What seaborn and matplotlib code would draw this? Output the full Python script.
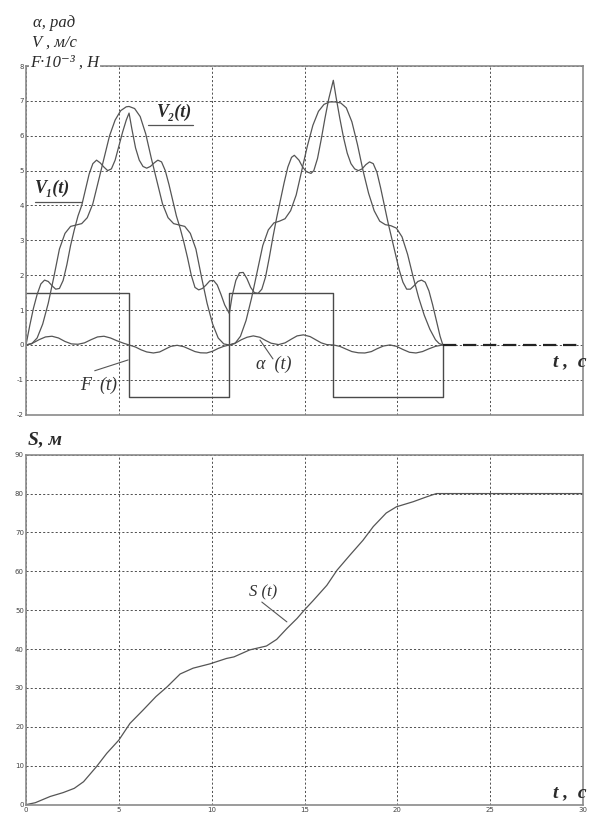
import matplotlib
matplotlib.use('Agg')
import matplotlib.pyplot as plt
import seaborn as sns

# ---------------- data ----------------
t_ticks = [0, 5, 10, 15, 20, 25, 30]
top_yticks = [-2, -1, 0, 1, 2, 3, 4, 5, 6, 7, 8]
bottom_yticks = [0, 10, 20, 30, 40, 50, 60, 70, 80, 90]

# V1(t)
v1_t = [0, 0.2, 0.4, 0.6, 0.8, 1.0, 1.2, 1.4, 1.6, 1.8, 2.0, 2.2, 2.4, 2.6, 2.8, 3.0,
        3.2, 3.4, 3.6, 3.8, 4.0, 4.2, 4.4, 4.6, 4.8, 5.0, 5.2, 5.4,
        5.55, 5.7, 5.9, 6.1, 6.3, 6.5, 6.7, 6.9, 7.1, 7.3, 7.5, 7.7, 7.9, 8.1, 8.3,
        8.5, 8.7, 8.9, 9.1, 9.3, 9.5, 9.7, 9.9, 10.1, 10.3, 10.5, 10.7,
        10.95, 11.1, 11.3, 11.5, 11.7, 11.9, 12.1, 12.3, 12.5, 12.7, 12.9, 13.1, 13.3,
        13.5, 13.7, 13.9, 14.1, 14.3, 14.45, 14.7, 14.9, 15.1, 15.35, 15.5, 15.7,
        15.9, 16.1, 16.3,
        16.55, 16.7, 16.9, 17.1, 17.3, 17.5, 17.7, 17.9, 18.1, 18.3, 18.5, 18.7,
        18.9, 19.1, 19.3, 19.5, 19.7, 19.9, 20.1, 20.3, 20.5, 20.7, 20.9, 21.1,
        21.3, 21.5, 21.7, 21.9, 22.1, 22.3, 22.45]
v1 = [0, 0.55, 1.05, 1.45, 1.75, 1.86, 1.82, 1.7, 1.6, 1.62, 1.85, 2.3, 2.85, 3.3, 3.7, 4.0,
      4.45, 4.9, 5.2, 5.3, 5.22, 5.1, 5.0, 5.05, 5.3, 5.7, 6.1, 6.45,
      6.65, 6.2, 5.65, 5.3, 5.12, 5.07, 5.12, 5.22, 5.3, 5.25, 5.0, 4.6, 4.15, 3.7, 3.35,
      2.95, 2.5, 2.0, 1.65, 1.58, 1.62, 1.72, 1.84, 1.85, 1.72, 1.45, 1.15,
      0.9, 1.4, 1.85, 2.07, 2.08, 1.9, 1.65, 1.5, 1.48, 1.6, 1.95, 2.5, 3.1,
      3.65, 4.15, 4.65, 5.1, 5.38, 5.44, 5.3, 5.1, 4.97, 4.92, 5.0, 5.35,
      5.9, 6.5, 7.05,
      7.59, 7.1, 6.5, 5.95, 5.5, 5.2, 5.05, 5.0, 5.05, 5.17, 5.25, 5.2,
      4.95, 4.5, 4.0, 3.5, 3.05, 2.6, 2.15, 1.8, 1.6, 1.6, 1.7, 1.82,
      1.86, 1.8, 1.55, 1.15, 0.7, 0.25, 0.0]

# V2(t)
v2_t = [0, 0.3, 0.6, 0.9, 1.2, 1.5, 1.8, 2.1, 2.4, 2.7, 3.0, 3.3, 3.6, 3.9, 4.2, 4.5,
        4.8, 5.1, 5.4,
        5.55, 5.85, 6.15, 6.45, 6.75, 7.05, 7.35, 7.65, 7.95, 8.25, 8.55, 8.85, 9.15,
        9.45, 9.75, 10.05, 10.35, 10.65,
        10.95, 11.25, 11.55, 11.85, 12.15, 12.45, 12.75, 13.05, 13.35, 13.65, 13.95,
        14.25, 14.55, 14.85, 15.15, 15.45, 15.75, 16.05, 16.35,
        16.65, 16.95, 17.25, 17.55, 17.85, 18.15, 18.45, 18.75, 19.05, 19.35, 19.65,
        19.95, 20.25, 20.55, 20.85, 21.15, 21.45, 21.75, 22.05, 22.25, 22.45]
v2 = [0, 0.03, 0.2, 0.6, 1.2, 1.95, 2.75, 3.2, 3.4, 3.44, 3.48, 3.65, 4.05, 4.7, 5.35, 6.0,
      6.45, 6.72, 6.83,
      6.84, 6.78, 6.55, 6.05, 5.35, 4.7, 4.05, 3.65, 3.48, 3.44, 3.4, 3.2, 2.75,
      1.95, 1.2, 0.6, 0.2, 0.03,
      0, 0.04, 0.25, 0.7, 1.35, 2.1, 2.85, 3.3, 3.5, 3.55, 3.62,
      3.85, 4.3, 5.0, 5.7, 6.3, 6.7, 6.9, 6.97,
      6.97, 6.94, 6.8, 6.4, 5.75, 5.0, 4.35, 3.85, 3.55, 3.45, 3.42,
      3.35, 3.1, 2.6, 1.95, 1.35, 0.85, 0.45, 0.15, 0.04, 0]

# alpha(t)
a_t = [0, 0.35, 0.7, 1.05, 1.4, 1.75, 2.1, 2.45, 2.8, 3.15, 3.5, 3.85, 4.2, 4.55, 4.9, 5.25,
       5.55, 5.9, 6.2, 6.5, 6.86, 7.2, 7.5, 7.8, 8.14, 8.5, 8.8, 9.1, 9.4, 9.73, 10.05,
       10.35, 10.65,
       10.95, 11.3, 11.6, 11.9, 12.24, 12.6, 12.9, 13.2, 13.6, 13.95, 14.3, 14.6, 14.94,
       15.3, 15.6, 15.9, 16.2,
       16.55, 16.9, 17.2, 17.55, 17.9, 18.25, 18.6, 18.9, 19.25, 19.6, 19.95, 20.3,
       20.65, 21.0, 21.35, 21.7, 22.05, 22.45]
alpha = [0, 0.05, 0.15, 0.23, 0.25, 0.2, 0.1, 0.03, 0.02, 0.06, 0.15, 0.23, 0.25, 0.2, 0.12, 0.05,
         0, -0.06, -0.14, -0.2, -0.23, -0.2, -0.12, -0.04, -0.01, -0.05, -0.12, -0.19, -0.225, -0.23, -0.18,
         -0.1, -0.04,
         0, 0.06, 0.15, 0.22, 0.26, 0.22, 0.13, 0.05, 0.01, 0.06, 0.17, 0.26, 0.29,
         0.24, 0.15, 0.06, 0.01,
         0, -0.04, -0.11, -0.19, -0.225, -0.23, -0.19, -0.11, -0.03, 0.0, -0.04, -0.13,
         -0.21, -0.23, -0.19, -0.11, -0.04, 0]

# F(t): switching times and levels
f_switch = [0, 5.55, 10.95, 16.55, 22.45]
f_level = [1.5, -1.5, 1.5, -1.5]
rest_t = [22.45, 30]
rest_v = [0, 0]

# S(t)
s_t = [0, 0.5, 1.3, 2.0, 2.6, 3.1, 3.8, 4.35, 5.0, 5.6, 6.3, 7.0, 7.6, 8.3, 9.0, 9.9,
       10.8, 11.2, 12.05, 12.95, 13.5, 14.05, 14.6, 15.0, 15.45, 16.2, 16.75, 17.45,
       18.15, 18.7, 19.4, 19.95, 20.85, 21.6, 22.1, 25, 30]
s_v = [0, 0.5, 2.1, 3.1, 4.2, 5.9, 9.8, 13.2, 16.6, 20.9, 24.3, 27.8, 30.3, 33.6, 35.1, 36.2,
       37.6, 38.0, 39.8, 40.8, 42.5, 45.3, 47.9, 50.1, 52.4, 56.4, 60.3, 64.2,
       68.0, 71.5, 75.0, 76.6, 77.9, 79.2, 80.0, 80.0, 80.0]

# ---------------- figure ----------------
sns.set_theme(style='white')
plt.rcParams['font.family'] = ['Liberation Serif', 'DejaVu Serif']
plt.rcParams['axes.unicode_minus'] = False

line_c = '#555555'
text_c = '#2a2a2a'

fig = plt.figure(figsize=(5.99, 8.16), dpi=100)
ax1 = fig.add_axes([0.0434, 0.4918, 0.930, 0.4273])
ax2 = fig.add_axes([0.0434, 0.0139, 0.930, 0.4289])

for ax, yt, ylim in [(ax1, top_yticks, (-2, 8)), (ax2, bottom_yticks, (0, 90))]:
    ax.set_xlim(0, 30)
    ax.set_ylim(*ylim)
    ax.set_xticks(t_ticks)
    ax.set_yticks(yt)
    ax.grid(True, color='#333333', linestyle=(0, (2.5, 2.5)), linewidth=0.6)
    for sp in ax.spines.values():
        sp.set_visible(True)
        sp.set_color('#8a8a8a')
        sp.set_linewidth(1.2)
    ax.tick_params(length=0, labelsize=5, colors='#444444', pad=1.5)
    for lab in ax.get_xticklabels() + ax.get_yticklabels():
        lab.set_family('DejaVu Sans')
    ax.set_xlabel('')
    ax.set_ylabel('')

ax1.set_xticklabels([])

# F(t) as a step path
fx, fy = [], []
for i, lvl in enumerate(f_level):
    fx += [f_switch[i], f_switch[i + 1]]
    fy += [lvl, lvl]
fx.append(f_switch[-1])
fy.append(0)

kw = dict(estimator=None, sort=False, legend=False)
sns.lineplot(x=fx, y=fy, ax=ax1, color='#4a4a4a', linewidth=1.0, **kw)
sns.lineplot(x=a_t, y=alpha, ax=ax1, color=line_c, linewidth=0.9, **kw)
sns.lineplot(x=v2_t, y=v2, ax=ax1, color=line_c, linewidth=0.9, **kw)
sns.lineplot(x=v1_t, y=v1, ax=ax1, color=line_c, linewidth=0.9, **kw)
ax1.plot(rest_t, rest_v, color='#222222', linewidth=1.6, linestyle=(0, (6, 3)))

sns.lineplot(x=s_t, y=s_v, ax=ax2, color=line_c, linewidth=0.9, **kw)

# ---------------- annotations ----------------
ax1.text(0.38, 9.23, 'α, рад', fontsize=12, style='italic', color=text_c,
         va='center', ha='left', clip_on=False)
ax1.text(0.35, 8.68, 'V , м/с', fontsize=12, style='italic', color=text_c,
         va='center', ha='left', clip_on=False)
ax1.text(0.2, 8.1, 'F·10⁻³ , Н', fontsize=12, style='italic', color=text_c,
         va='center', ha='left', clip_on=False,
         bbox=dict(facecolor='white', edgecolor='none', pad=0.5))

ax1.text(0.5, 4.5, 'V₁(t)', fontsize=13, style='italic', weight='bold',
         color=text_c, va='center', ha='left')
ax1.plot([0.5, 3.0], [4.1, 4.1], color=line_c, linewidth=0.9)
ax1.text(7.05, 6.68, 'V₂(t)', fontsize=13, style='italic', weight='bold',
         color=text_c, va='center', ha='left')
ax1.plot([6.55, 9.0], [6.3, 6.3], color=line_c, linewidth=0.9)

ax1.text(2.9, -1.15, 'F  (t)', fontsize=13, style='italic', color='#333333',
         va='center', ha='left')
ax1.plot([3.7, 5.5], [-0.74, -0.43], color=line_c, linewidth=0.8)
ax1.text(12.4, -0.57, 'α  (t)', fontsize=13, style='italic', color='#333333',
         va='center', ha='left')
ax1.plot([12.6, 13.3], [0.14, -0.4], color=line_c, linewidth=0.8)

ax1.text(28.4, -0.49, 't ,  c', fontsize=14, style='italic', weight='bold',
         color=text_c, va='center', ha='left', clip_on=False)

ax2.text(0.1, 93.8, 'S, м', fontsize=14, style='italic', weight='bold',
         color=text_c, va='center', ha='left', clip_on=False)
ax2.text(12.0, 54.7, 'S (t)', fontsize=12, style='italic', color='#333333',
         va='center', ha='left')
ax2.plot([12.7, 14.05], [52.1, 47.0], color=line_c, linewidth=0.8)
ax2.text(28.4, 3.0, 't ,  c', fontsize=14, style='italic', weight='bold',
         color=text_c, va='center', ha='left', clip_on=False)

fig.savefig('out.png', dpi=100, facecolor='white')
